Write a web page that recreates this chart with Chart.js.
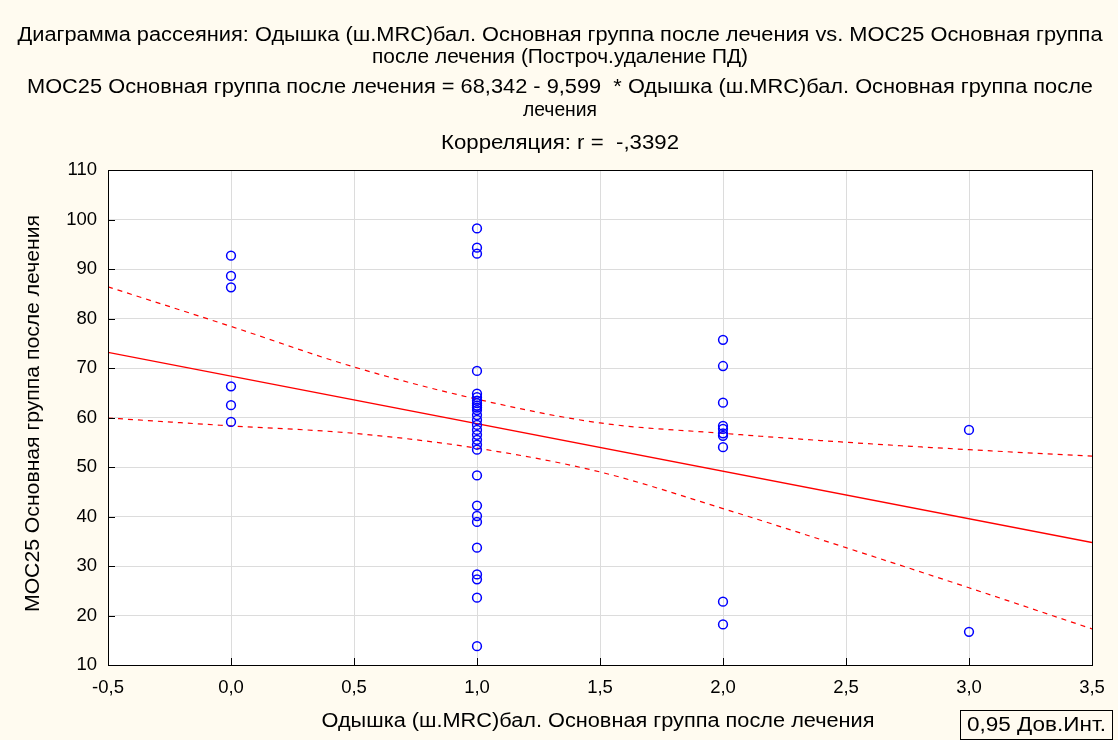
<!DOCTYPE html>
<html>
<head>
<meta charset="utf-8">
<script src="https://cdn.jsdelivr.net/npm/chart.js@4.4.1/dist/chart.umd.min.js"></script>
<style>
  html, body { margin: 0; padding: 0; background: #fffbf0; }
  #wrap { width: 1118px; height: 740px; position: relative; }
</style>
</head>
<body>
<div id="wrap"><canvas id="c" width="1118" height="740"></canvas></div>
<script>
// Observations: MOC25 values grouped by dyspnea score (mMRC)
const score0 = [92.7, 88.6, 86.3, 66.3, 62.5, 59.1];
const score1 = [98.2, 94.3, 93.1, 69.4, 64.8, 64.1, 63.4, 62.9, 62.4, 62.0, 61.5, 60.5,
                59.5, 58.5, 57.5, 56.5, 55.5, 54.5, 53.5, 48.3, 42.2, 40.1, 38.9, 33.7,
                28.3, 27.3, 23.6, 13.8];
const score2 = [75.7, 70.4, 63.0, 58.3, 57.7, 56.8, 56.3, 54.0, 22.8, 18.2];
const score3 = [57.5, 16.7];

// Regression: MOC25 = 68,342 - 9,599 * score
const intercept = 68.342;
const slope = -9.599;

// 95% confidence band of the fit
const bandX     = [-0.5, 0, 0.5, 1, 1.5, 2, 2.5, 3, 3.5];
const bandUpper = [86.4, 78.4, 70.2, 63.7, 58.9, 56.8, 55.0, 53.5, 52.2];
const bandLower = [59.9, 58.3, 56.8, 53.8, 49.0, 41.6, 33.7, 25.6, 17.3];

const xRange = [-0.5, 3.5];
const yRange = [10, 110];

const titleLines = [
  'Диаграмма рассеяния: Одышка (ш.MRC)бал. Основная группа после лечения vs. МОС25 Основная группа',
  'после лечения (Построч.удаление ПД)',
  'МОС25 Основная группа после лечения = 68,342 - 9,599  * Одышка (ш.MRC)бал. Основная группа после',
  'лечения',
  'Корреляция: r =  -,3392'
];
const xTitle = 'Одышка (ш.MRC)бал. Основная группа после лечения';
const yTitle = 'МОС25 Основная группа после лечения';
const legendText = '0,95 Дов.Инт.';

const FONT = '"Liberation Sans", Arial, sans-serif';

const points = [];
[[0, score0], [1, score1], [2, score2], [3, score3]].forEach(([x, arr]) => {
  arr.forEach(y => points.push({ x, y }));
});

const fitLine = xRange.map(x => ({ x, y: intercept + slope * x }));
const upper = bandX.map((x, i) => ({ x, y: bandUpper[i] }));
const lower = bandX.map((x, i) => ({ x, y: bandLower[i] }));

const fmt = v => v.toFixed(1).replace('.', ',').replace('-0,0', '0,0');

// Draws a text line centred on (x, y), stretched or squeezed horizontally to a given width
function fitText(ctx, text, x, y, width, size, align) {
  ctx.save();
  ctx.font = size + 'px ' + FONT;
  const w = ctx.measureText(text).width;
  ctx.translate(x, y);
  ctx.scale(width / w, 1);
  ctx.textAlign = align || 'center';
  ctx.textBaseline = 'middle';
  ctx.fillText(text, 0, 0);
  ctx.restore();
}

const framePlugin = {
  id: 'frame',
  beforeDraw(chart) {
    const { ctx, chartArea: a } = chart;
    ctx.save();
    ctx.fillStyle = '#fffbf0';
    ctx.fillRect(0, 0, chart.width, chart.height);
    ctx.fillStyle = '#ffffff';
    ctx.fillRect(a.left, a.top, a.right - a.left, a.bottom - a.top);
    ctx.restore();
  },
  afterDraw(chart) {
    const { ctx, chartArea: a, scales } = chart;
    ctx.save();
    // plot frame
    ctx.strokeStyle = '#000';
    ctx.lineWidth = 1;
    ctx.strokeRect(Math.round(a.left) + 0.5, Math.round(a.top) + 0.5,
                   Math.round(a.right - a.left), Math.round(a.bottom - a.top));
    // inner tick marks
    ctx.beginPath();
    scales.x.ticks.forEach(t => {
      const px = Math.round(scales.x.getPixelForValue(t.value)) + 0.5;
      ctx.moveTo(px, a.bottom); ctx.lineTo(px, a.bottom - 7);
    });
    scales.y.ticks.forEach(t => {
      const py = Math.round(scales.y.getPixelForValue(t.value)) + 0.5;
      ctx.moveTo(a.left, py); ctx.lineTo(a.left + 7, py);
    });
    ctx.stroke();

    ctx.fillStyle = '#000';
    // chart titles
    const ys = [35, 57, 87, 110, 143];
    const widths = [1085, 376, 1066, 74, 238];
    titleLines.forEach((s, i) => fitText(ctx, s, 560, ys[i], widths[i], 20));

    // axis titles
    fitText(ctx, xTitle, (a.left + a.right) / 2 - 2, 721, 553, 20);
    ctx.save();
    ctx.translate(33, (a.top + a.bottom) / 2 - 4);
    ctx.rotate(-Math.PI / 2);
    fitText(ctx, yTitle, 0, 0, 397, 20);
    ctx.restore();

    // confidence legend box
    ctx.strokeRect(960.5, 710.5, 152, 29);
    fitText(ctx, legendText, 967, 725, 139, 20, 'left');
    ctx.restore();
  }
};

new Chart(document.getElementById('c'), {
  type: 'scatter',
  data: {
    datasets: [
      {
        data: points,
        pointStyle: 'circle',
        pointRadius: 4.4,
        pointBorderWidth: 1.5,
        pointBorderColor: '#0000ff',
        pointBackgroundColor: 'rgba(0,0,0,0)',
        showLine: false,
        order: 0
      },
      {
        data: fitLine,
        showLine: true,
        borderColor: '#ff0000',
        borderWidth: 1.3,
        pointRadius: 0,
        order: 1
      },
      {
        data: upper,
        showLine: true,
        borderColor: '#ff0000',
        borderWidth: 1.2,
        borderDash: [5, 5],
        cubicInterpolationMode: 'monotone',
        pointRadius: 0,
        order: 1
      },
      {
        data: lower,
        showLine: true,
        borderColor: '#ff0000',
        borderWidth: 1.2,
        borderDash: [5, 5],
        cubicInterpolationMode: 'monotone',
        pointRadius: 0,
        order: 1
      }
    ]
  },
  options: {
    responsive: false,
    animation: false,
    devicePixelRatio: 1,
    layout: { padding: { top: 170, right: 26, bottom: 0, left: 0 } },
    plugins: {
      legend: { display: false },
      tooltip: { enabled: false }
    },
    scales: {
      x: {
        type: 'linear',
        min: xRange[0],
        max: xRange[1],
        afterFit(s) { s.height = 75; },
        ticks: {
          stepSize: 0.5,
          callback: v => fmt(v),
          color: '#000',
          font: { size: 18.5, family: FONT },
          padding: 12,
          maxRotation: 0
        },
        grid: { color: '#dcdcdc', drawTicks: false },
        border: { color: '#000', width: 1 }
      },
      y: {
        type: 'linear',
        min: yRange[0],
        max: yRange[1],
        afterFit(s) { s.width = 108; },
        ticks: {
          stepSize: 10,
          color: '#000',
          font: { size: 18.5, family: FONT },
          padding: 11
        },
        grid: { color: '#dcdcdc', drawTicks: false },
        border: { color: '#000', width: 1 }
      }
    }
  },
  plugins: [framePlugin]
});
</script>
</body>
</html>
